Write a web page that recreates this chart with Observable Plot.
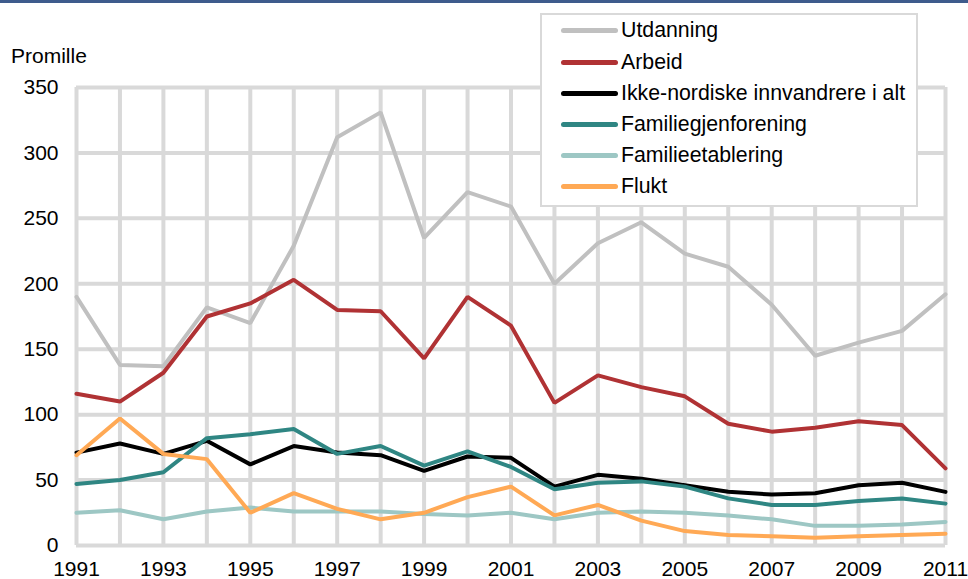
<!DOCTYPE html>
<html>
<head>
<meta charset="utf-8">
<script src="https://cdn.jsdelivr.net/npm/d3@7"></script>
<script src="https://cdn.jsdelivr.net/npm/@observablehq/plot@0.6"></script>
<style>
  html, body { margin: 0; padding: 0; background: #fff; }
  body { width: 968px; height: 579px; position: relative; overflow: hidden; font-family: "Liberation Sans", Arial, sans-serif; }
  #topbar { position: absolute; left: 0; top: 0; width: 968px; height: 3px; background: #3e5b8c; }
  #chart { position: absolute; left: 0; top: 0; }
  #ylabel { position: absolute; left: 11px; top: 45px; font-size: 21px; line-height: 21px; color: #000; }
  #legend { position: absolute; left: 540px; top: 13px; width: 374px; height: 190px; background: #fff; border: 2px solid #d9d9d9; }
  .item { position: absolute; left: 0; height: 21px; }
  .item .sw { position: absolute; left: 19px; top: 8px; width: 57px; height: 5px; border-radius: 3px; }
  .item .lb { position: absolute; left: 79px; top: 0; font-size: 21.3px; line-height: 21px; white-space: nowrap; color: #000; }
</style>
</head>
<body>
<div id="chart"></div>
<div id="topbar"></div>
<div id="ylabel">Promille</div>
<div id="legend"></div>
<script>
const years = d3.range(1991, 2012);
const xTicks = [1991, 1993, 1995, 1997, 1999, 2001, 2003, 2005, 2007, 2009, 2011];
const yTicks = [0, 50, 100, 150, 200, 250, 300, 350];

const seriesNames = ["Utdanning", "Arbeid", "Ikke-nordiske innvandrere i alt", "Familiegjenforening", "Familieetablering", "Flukt"];
const seriesColors = ["#c0c0c0", "#b03234", "#000000", "#2f8683", "#9dc7c4", "#ffa955"];

const utdanning = [190, 138, 137, 182, 170, 229, 312, 331, 235, 270, 259, 200, 231, 247, 223, 213, 184, 145, 155, 164, 192];
const arbeid = [116, 110, 132, 175, 185, 203, 180, 179, 143, 190, 168, 109, 130, 121, 114, 93, 87, 90, 95, 92, 59];
const ikkeNordiske = [71, 78, 70, 80, 62, 76, 71, 69, 57, 68, 67, 45, 54, 51, 46, 41, 39, 40, 46, 48, 41];
const familiegjenforening = [47, 50, 56, 82, 85, 89, 70, 76, 61, 72, 60, 43, 48, 49, 45, 36, 31, 31, 34, 36, 32];
const familieetablering = [25, 27, 20, 26, 29, 26, 26, 26, 24, 23, 25, 20, 25, 26, 25, 23, 20, 15, 15, 16, 18];
const flukt = [69, 97, 70, 66, 25, 40, 28, 20, 25, 37, 45, 23, 31, 19, 11, 8, 7, 6, 7, 8, 9];

const allSeries = [utdanning, arbeid, ikkeNordiske, familiegjenforening, familieetablering, flukt];
const data = allSeries.flatMap((vals, i) => vals.map((v, j) => ({year: years[j], value: v, series: seriesNames[i]})));

const plot = Plot.plot({
  width: 968,
  height: 579,
  marginLeft: 76,
  marginRight: 23,
  marginTop: 87,
  marginBottom: 34,
  style: {fontFamily: "Liberation Sans, Arial, sans-serif", fontSize: "21px", color: "#000", background: "transparent"},
  x: {domain: [1991, 2011], ticks: xTicks, tickFormat: "d"},
  y: {domain: [0, 350], ticks: yTicks},
  color: {domain: seriesNames, range: seriesColors},
  marks: [
    Plot.ruleX(years, {stroke: "#d9d9d9", strokeWidth: 4}),
    Plot.ruleY(yTicks, {stroke: "#d9d9d9", strokeWidth: 4}),
    Plot.axisY({ticks: yTicks, tickSize: 0, tickPadding: 18, fontSize: 21, label: null}),
    Plot.axisX({ticks: xTicks, tickSize: 0, tickPadding: 16, fontSize: 21, label: null, tickFormat: "d"}),
    Plot.line(data, {x: "year", y: "value", z: "series", stroke: "series", strokeWidth: 4, strokeLinejoin: "miter"})
  ]
});
document.getElementById("chart").appendChild(plot);

const legend = document.getElementById("legend");
const rowTops = [5, 37, 68, 99, 130, 161];
seriesNames.forEach((name, i) => {
  const item = document.createElement("div");
  item.className = "item";
  item.style.top = rowTops[i] + "px";
  item.innerHTML = `<div class="sw" style="background:${seriesColors[i]}"></div><div class="lb">${name}</div>`;
  legend.appendChild(item);
});
</script>
</body>
</html>
